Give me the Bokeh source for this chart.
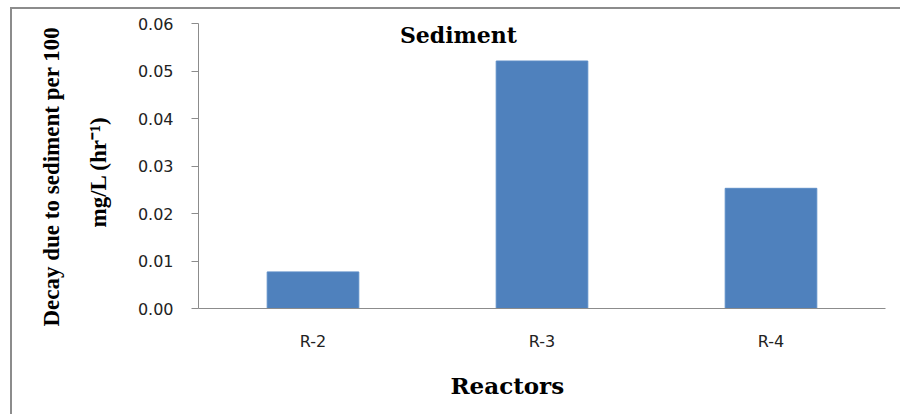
from bokeh.plotting import figure
from bokeh.models import FactorRange, Range1d, FixedTicker, NumeralTickFormatter, Label, Title
from bokeh.embed import file_html
from bokeh.resources import INLINE

reactors = ["R-2", "R-3", "R-4"]
decay = [0.0077, 0.0521, 0.0253]
y_ticks = [0.0, 0.01, 0.02, 0.03, 0.04, 0.05, 0.06]
title_text = "Sediment"
x_title = "Reactors"
y_title_line1 = "Decay due to sediment per 100"
y_title_line2 = "mg/L (hr\u207b\u00b9)"

p = figure(width=900, height=414, x_range=FactorRange(*reactors, range_padding=0),
           y_range=Range1d(0, 0.06), output_backend="svg", toolbar_location=None,
           min_border_left=198, min_border_right=15, min_border_top=23, min_border_bottom=106)
p.vbar(x=reactors, top=decay, width=0.4, fill_color="#4F81BD", line_color="#5B8CC6", line_width=1)

p.outline_line_color = None
p.xgrid.grid_line_color = None
p.ygrid.grid_line_color = None
p.background_fill_color = "white"
p.border_fill_color = None

# y axis
p.yaxis.ticker = FixedTicker(ticks=y_ticks)
p.yaxis.formatter = NumeralTickFormatter(format="0.00")
p.yaxis.axis_line_color = "#8c8c8c"
p.yaxis.major_tick_line_color = "#8c8c8c"
p.yaxis.major_tick_out = 7
p.yaxis.major_tick_in = 0
p.yaxis.minor_tick_line_color = None
p.yaxis.major_label_standoff = 18
p.yaxis.major_label_text_font = "DejaVu Sans"
p.yaxis.major_label_text_font_size = "16px"
p.yaxis.major_label_text_color = "#222222"

# y axis title: two lines, placed as side titles so they can sit where the reference has them
ylab2 = Title(text=y_title_line2, align="left", offset=81, standoff=47,
              text_font="Liberation Serif", text_font_style="bold", text_font_size="23px",
              text_color="black")
p.add_layout(ylab2, "left")
ylab1 = Title(text=y_title_line1, align="left", offset=-18, standoff=-6,
              text_font="Liberation Serif", text_font_style="bold", text_font_size="23px",
              text_color="black")
p.add_layout(ylab1, "left")

# x axis
p.xaxis.axis_line_color = "#8c8c8c"
p.xaxis.major_tick_line_color = None
p.xaxis.minor_tick_line_color = None
p.xaxis.major_label_standoff = 17
p.xaxis.major_label_text_font = "DejaVu Sans"
p.xaxis.major_label_text_font_size = "16px"
p.xaxis.major_label_text_color = "#222222"

x_label = Title(text=x_title, align="left", offset=252, standoff=32,
                text_font="DejaVu Serif", text_font_style="bold", text_font_size="23px",
                text_color="black")
p.add_layout(x_label, "below")

# chart title placed inside plot area, as in reference
title = Label(x=260, x_units="screen", y=0.0576, text=title_text,
              text_font="DejaVu Serif", text_font_style="bold", text_font_size="22px",
              text_align="center", text_baseline="middle", text_color="black")
p.add_layout(title)

# outer chart border (left and top edges visible in the reference)
p.styles = {
    "background-image": "linear-gradient(#8c8c8c, #8c8c8c), linear-gradient(#8c8c8c, #8c8c8c)",
    "background-position": "10px 7px, 10px 7px",
    "background-size": "2px 100%, 100% 2px",
    "background-repeat": "no-repeat, no-repeat",
}

open("out.html", "w").write(file_html(p, INLINE))
